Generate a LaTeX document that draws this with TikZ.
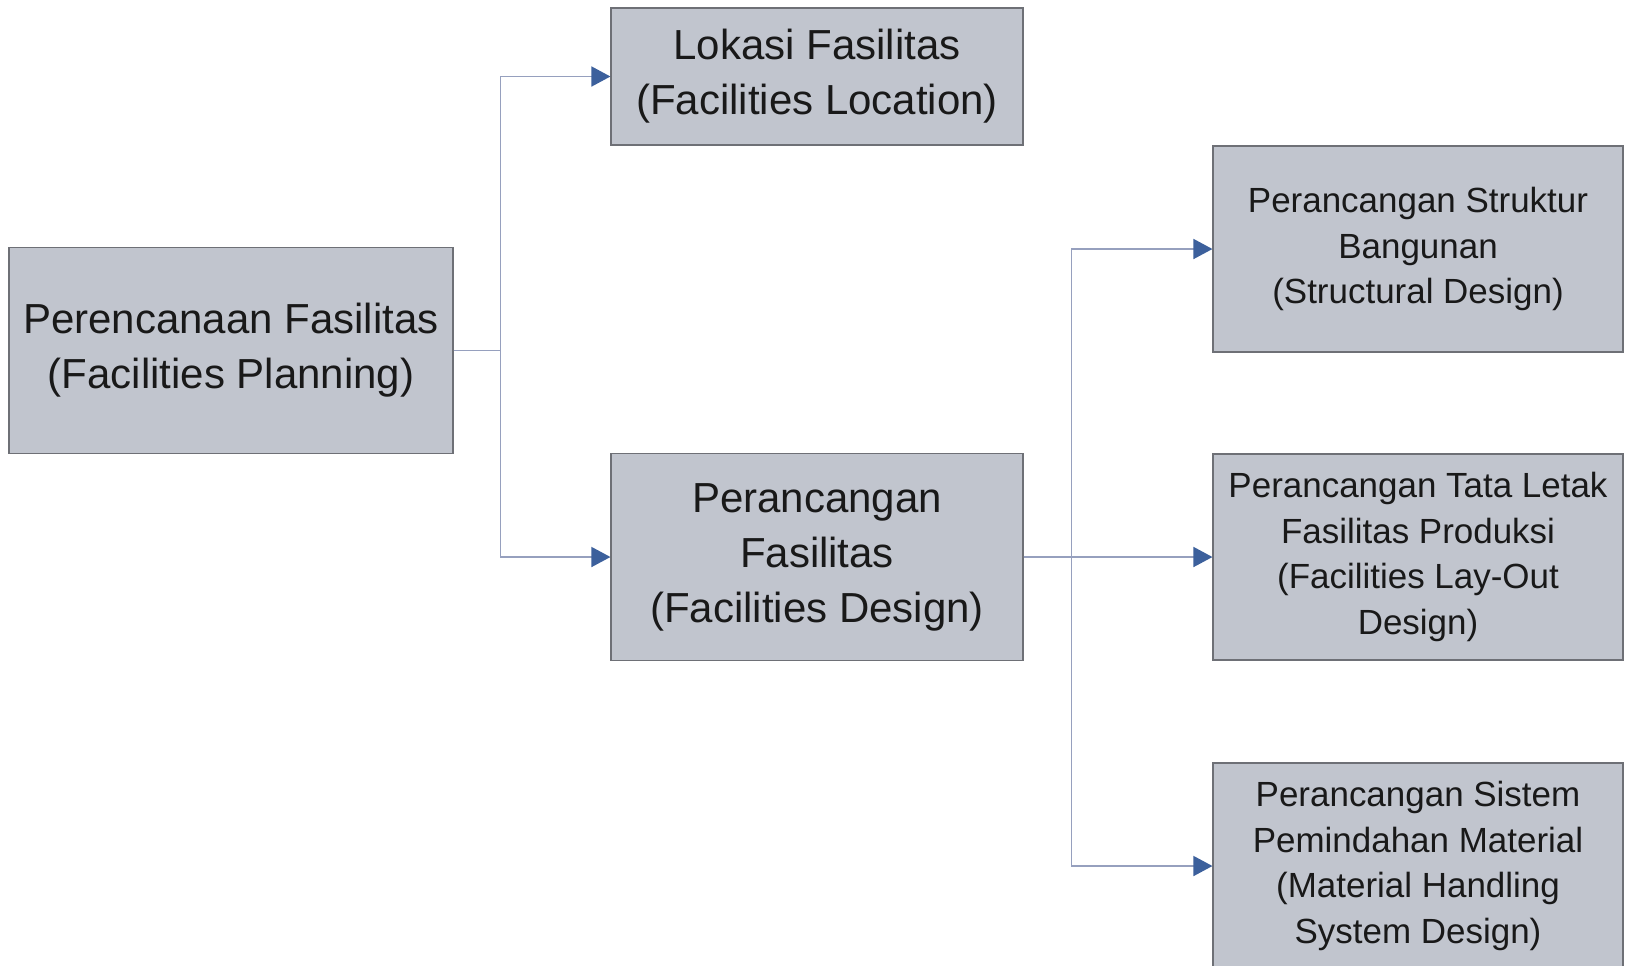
\documentclass[tikz,border=0pt]{standalone}
\usepackage{fontspec}
\setmainfont{Liberation Sans}
\usetikzlibrary{arrows.meta, positioning}
\definecolor{fpfill}{RGB}{193,197,206}
\definecolor{fpedge}{RGB}{110,112,118}
\definecolor{fpline}{RGB}{150,160,190}
\definecolor{fptip}{RGB}{60,96,156}
\tikzset{
  fpblock/.style={rectangle, draw=fpedge, line width=0.7pt, fill=fpfill,
                  inner sep=0pt, align=center, text=black!90},
  fpbig/.style={fpblock, minimum height=4.13cm,
                font=\fontsize{23.9pt}{31.3pt}\selectfont},
  fpsmall/.style={fpblock, minimum width=8.2cm, minimum height=4.12cm,
                  font=\fontsize{19.9pt}{25.9pt}\selectfont},
  fparrow/.style={line width=0.9pt, draw=fpline,
                  -{Triangle[length=0.38cm, width=0.4cm, color=fptip]}},
}
\begin{document}
\begin{tikzpicture}[x=0.02cm, y=-0.02cm]
  \clip (0,0) rectangle (1625,965);
  \fill[white] (0,0) rectangle (1625,965);

  % Blok utama
  \node[fpbig, minimum width=8.88cm] (plan) at (231, 350.5)
    {Perencanaan Fasilitas\\(Facilities Planning)};
  \node[fpbig, minimum width=8.24cm, minimum height=2.74cm] (loc) at (817, 76.5)
    {Lokasi Fasilitas\\(Facilities Location)};
  \node[fpbig, minimum width=8.24cm] (design) at (817, 557)
    {Perancangan\\Fasilitas\\(Facilities Design)};

  % Blok perancangan
  \node[fpsmall] (struct) at (1418, 249)
    {Perancangan Struktur\\Bangunan\\(Structural Design)};
  \node[fpsmall] (layout) at (1418, 557)
    {Perancangan Tata Letak\\Fasilitas Produksi\\(Facilities Lay-Out\\Design)};
  \node[fpsmall] (mh) at (1418, 866)
    {Perancangan Sistem\\Pemindahan Material\\(Material Handling\\System Design)};

  % Penghubung
  \draw[fparrow] (plan.east) -- ++(47,0) |- (loc.west);
  \draw[fparrow] (plan.east) -- ++(47,0) |- (design.west);
  \draw[fparrow] (design.east) -- ++(48,0) |- (struct.west);
  \draw[fparrow] (design.east) -- ++(48,0) |- (layout.west);
  \draw[fparrow] (design.east) -- ++(48,0) |- (mh.west);
\end{tikzpicture}
\end{document}
